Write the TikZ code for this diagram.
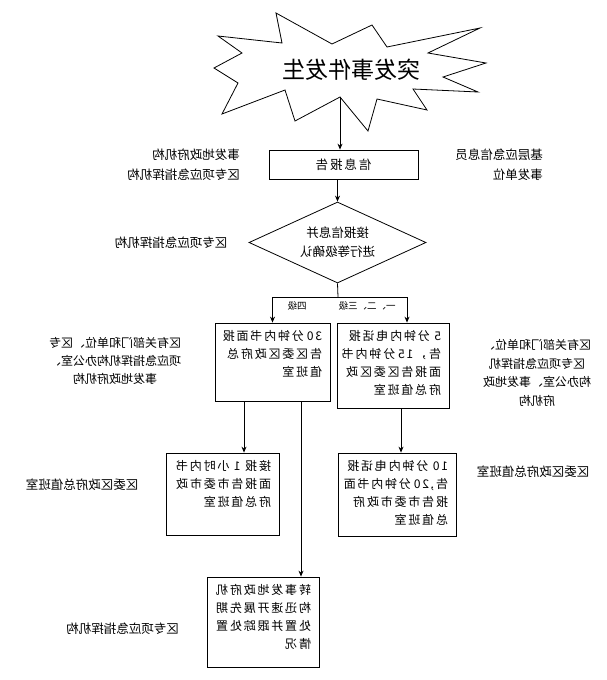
\documentclass[tikz,border=0pt]{standalone}
\usepackage{fontspec}
\setmainfont{Noto Sans CJK SC}
\usetikzlibrary{shapes.geometric,arrows.meta}
\newcommand{\boxtext}[3]{\parbox[c][#1][t]{#2}{\raggedright #3}}

\begin{document}
\begin{tikzpicture}[x=1pt,y=-1pt,line width=0.8pt,
  mirror/.style={xscale=-1},
  flowbox/.style={draw,mirror,inner xsep=8pt,inner ysep=7pt,font=\fontsize{12}{18}\selectfont\addfontfeature{LetterSpace=15}},
  sidelabel/.style={mirror,inner sep=0pt,font=\fontsize{12.5}{20}\selectfont},
  arr/.style={-{Stealth[length=6pt,width=5pt]}}]
  \useasboundingbox (0,0) rectangle (606,680);

  % burst
  \draw (276,13) -- (332,44) -- (372,25) -- (387,47) -- (480,28) -- (428,53) -- (486,63) -- (443,77)
    -- (478,92) -- (413,89) -- (427,110) -- (377,99) -- (368,131) -- (340,97) -- (295,121) -- (285,90)
    -- (222,114) -- (238,83) -- (214,68) -- (242,53) -- (218,36) -- (282,43) -- cycle;
  \node[mirror,font=\fontsize{23}{23}\selectfont] (title) at (351,70) {突发事件发生};
  \coordinate (burstbot) at (340,97);

  \node[draw,mirror,minimum width=149pt,minimum height=29pt,font=\fontsize{12.5}{15}\selectfont\addfontfeature{LetterSpace=15}] (info) at (343.5,164.5) {信息报告};
  \node[draw,diamond,aspect=2.2,mirror,minimum width=177pt,minimum height=81pt,inner sep=0pt,align=center,font=\fontsize{12.5}{19}\selectfont] (check) at (337.5,242.5) {接报信息并\\进行等级确认};

  \node[flowbox] (b1) at (272.5,362) {\boxtext{64pt}{99pt}{30~分钟内书面报\\告区委区政府总\\值班室}};
  \node[flowbox] (b2) at (393,365.5) {\boxtext{71pt}{96pt}{5~分钟内电话报\\告，15~分钟内书\\面报告区委区政\\府总值班室}};
  \node[flowbox] (b3) at (222.5,494) {\boxtext{68pt}{97pt}{接报~1~小时内书\\面报告市委市政\\府总值班室}};
  \node[flowbox] (b4) at (397,494.5) {\boxtext{69pt}{102pt}{10~分钟内电话报\\告,20~分钟内书面\\报告市委市政府\\总值班室}};
  \node[flowbox] (b5) at (263,622) {\boxtext{76pt}{96pt}{转事发地政府机\\构迅速开展先期\\处置并跟踪处置\\情况}};

  \node[mirror,font=\fontsize{9.5}{10}\selectfont] (lvl4) at (297,306) {四级};
  \node[mirror,font=\fontsize{9.5}{10}\selectfont] (lvl13) at (367,306) {一、二、三级};

  % side notes
  \node[sidelabel,align=left] (srcL) at (183.5,165) {事发地政府机构\\区专项应急指挥机构};
  \node[sidelabel,align=left] (srcR) at (499,165) {基层应急信息员\\事发单位};
  \node[sidelabel] (chkL) at (171,243) {区专项应急指挥机构};
  \node[sidelabel,align=center,font=\fontsize{12}{18}\selectfont] (notL1) at (115,361) {区有关部门和单位、区专\\项应急指挥机构办公室、\\事发地政府机构};
  \node[sidelabel,align=center,font=\fontsize{12}{18.5}\selectfont] (notR1) at (537,373) {区有关部门和单位、\\区专项应急指挥机\\构办公室、事发地政\\府机构};
  \node[sidelabel] (notL2) at (82,485) {区委区政府总值班室};
  \node[sidelabel] (notR2) at (533,472) {区委区政府总值班室};
  \node[sidelabel] (notL3) at (122.5,629) {区专项应急指挥机构};

  % connectors
  \coordinate (split) at (338,297);
  \coordinate (rdrop) at (407,0);
  \coordinate (d1) at (244,0);
  \coordinate (d2) at (301,0);
  \coordinate (d3) at (401,0);
  \draw[arr] (burstbot) -- (burstbot |- info.north);
  \draw[arr] (check.north |- info.south) -- (check.north);
  \draw (check.south) -- (split);
  \draw[arr] (split) -| (b1.north);
  \draw[arr] (split) -| (rdrop |- b2.north);
  \draw[arr] (d1 |- b1.south) -- (d1 |- b3.north);
  \draw[arr] (d2 |- b1.south) -- (d2 |- b5.north);
  \draw[arr] (d3 |- b2.south) -- (d3 |- b4.north);
\end{tikzpicture}
\end{document}
